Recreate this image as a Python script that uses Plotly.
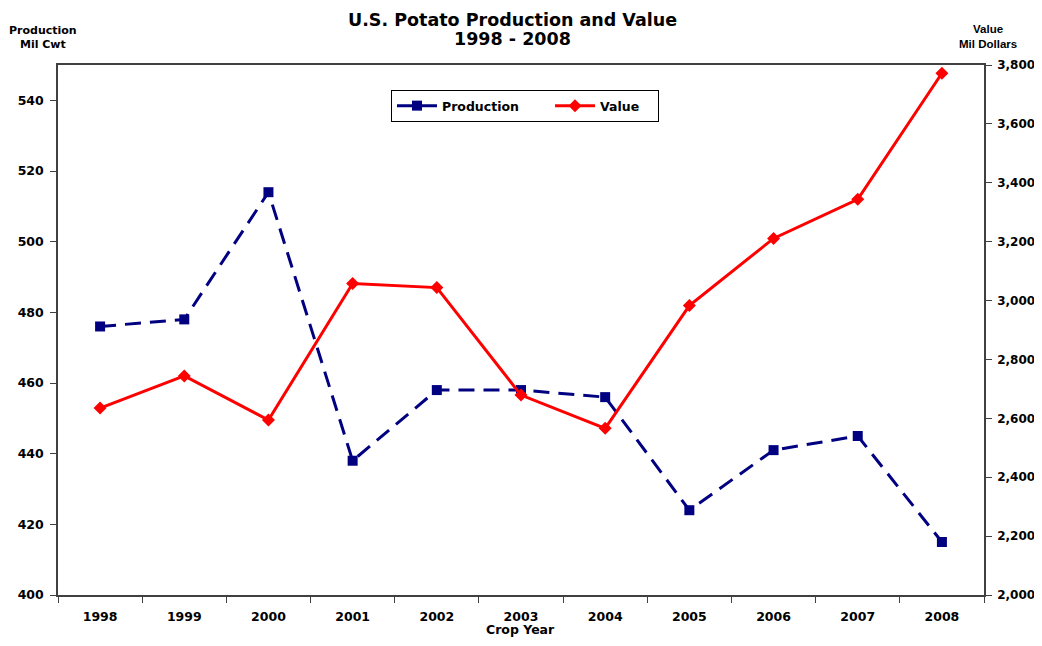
import plotly.graph_objects as go

years = ["1998", "1999", "2000", "2001", "2002", "2003", "2004", "2005", "2006", "2007", "2008"]
production = [476, 478, 514, 438, 458, 458, 456, 424, 441, 445, 415]
value = [2635, 2744, 2594, 3058, 3044, 2679, 2566, 2983, 3211, 3344, 3772]

BOLD = "DejaVu Sans, Verdana, sans-serif"
ARIAL = "Liberation Sans, Arial, sans-serif"
NB = "\u00a0"

fig = go.Figure()
fig.add_trace(go.Scatter(
    x=years, y=production, name="Production" + NB * 6, mode="lines+markers",
    line=dict(color="#000080", width=3, dash="16px,9px"),
    marker=dict(symbol="square", size=10, color="#000080"),
    yaxis="y",
))
fig.add_trace(go.Scatter(
    x=years, y=value, name="Value" + NB * 3, mode="lines+markers",
    line=dict(color="#FF0000", width=3),
    marker=dict(symbol="diamond", size=10, color="#FF0000"),
    yaxis="y2",
))

tickfont = dict(family=BOLD, size=12.5, color="black", weight="bold")

fig.update_layout(
    width=1026, height=630,
    margin=dict(l=50, r=50, t=57, b=43, autoexpand=False),
    paper_bgcolor="white", plot_bgcolor="white",
    xaxis=dict(type="category", range=[-0.5, 10.5], showgrid=False, automargin=False,
               showline=True, linecolor="#404040", linewidth=1.5, mirror=True,
               ticks="outside", tickson="boundaries", ticklen=6, tickcolor="#404040",
               tickfont=tickfont, ticklabelstandoff=9),
    yaxis=dict(range=[400, 550], tickvals=[400, 420, 440, 460, 480, 500, 520, 540],
               showgrid=False, zeroline=False, showline=True, linecolor="#404040", linewidth=1.5,
               automargin=False, ticks="outside", ticklen=6, tickcolor="#404040",
               tickfont=tickfont, ticklabelstandoff=4),
    yaxis2=dict(range=[2000, 3800], dtick=200, tickformat=",", overlaying="y", side="right",
                showgrid=False, zeroline=False, showline=True, linecolor="#404040", linewidth=1.5,
                automargin=False, ticks="outside", ticklen=6, tickcolor="#404040",
                tickfont=dict(family=BOLD, size=12, color="black", weight="bold"),
                ticklabelstandoff=3),
    legend=dict(orientation="h", x=0.3596, y=0.9528, xanchor="left", yanchor="top",
                bgcolor="white", bordercolor="black", borderwidth=1,
                font=dict(family=BOLD, size=12.5, color="black", weight="bold"),
                itemwidth=40),
    showlegend=True,
)

# titles placed in paper coordinates
fig.add_annotation(text="U.S. Potato Production and Value", xref="paper", yref="paper",
                   x=0.4908, y=1.0858, xanchor="center", yanchor="middle", showarrow=False,
                   font=dict(family=BOLD, size=17.5, color="black", weight="bold"))
fig.add_annotation(text="1998 - 2008", xref="paper", yref="paper",
                   x=0.4908, y=1.049, xanchor="center", yanchor="middle", showarrow=False,
                   font=dict(family=BOLD, size=17.5, color="black", weight="bold"))
fig.add_annotation(text="Production<br>Mil Cwt", xref="paper", yref="paper",
                   x=-0.0157, y=1.051, xanchor="center", yanchor="middle", showarrow=False,
                   font=dict(family=BOLD, size=11, color="black", weight="bold"))
fig.add_annotation(text="Value<br>Mil Dollars", xref="paper", yref="paper",
                   x=1.0043, y=1.0547, xanchor="center", yanchor="middle", showarrow=False,
                   font=dict(family=ARIAL, size=11.5, color="black", weight="bold"))
fig.add_annotation(text="Crop Year", xref="paper", yref="paper",
                   x=0.4995, y=-0.066, xanchor="center", yanchor="middle", showarrow=False,
                   font=dict(family=BOLD, size=12.5, color="black", weight="bold"))

fig.write_html("out.html")
